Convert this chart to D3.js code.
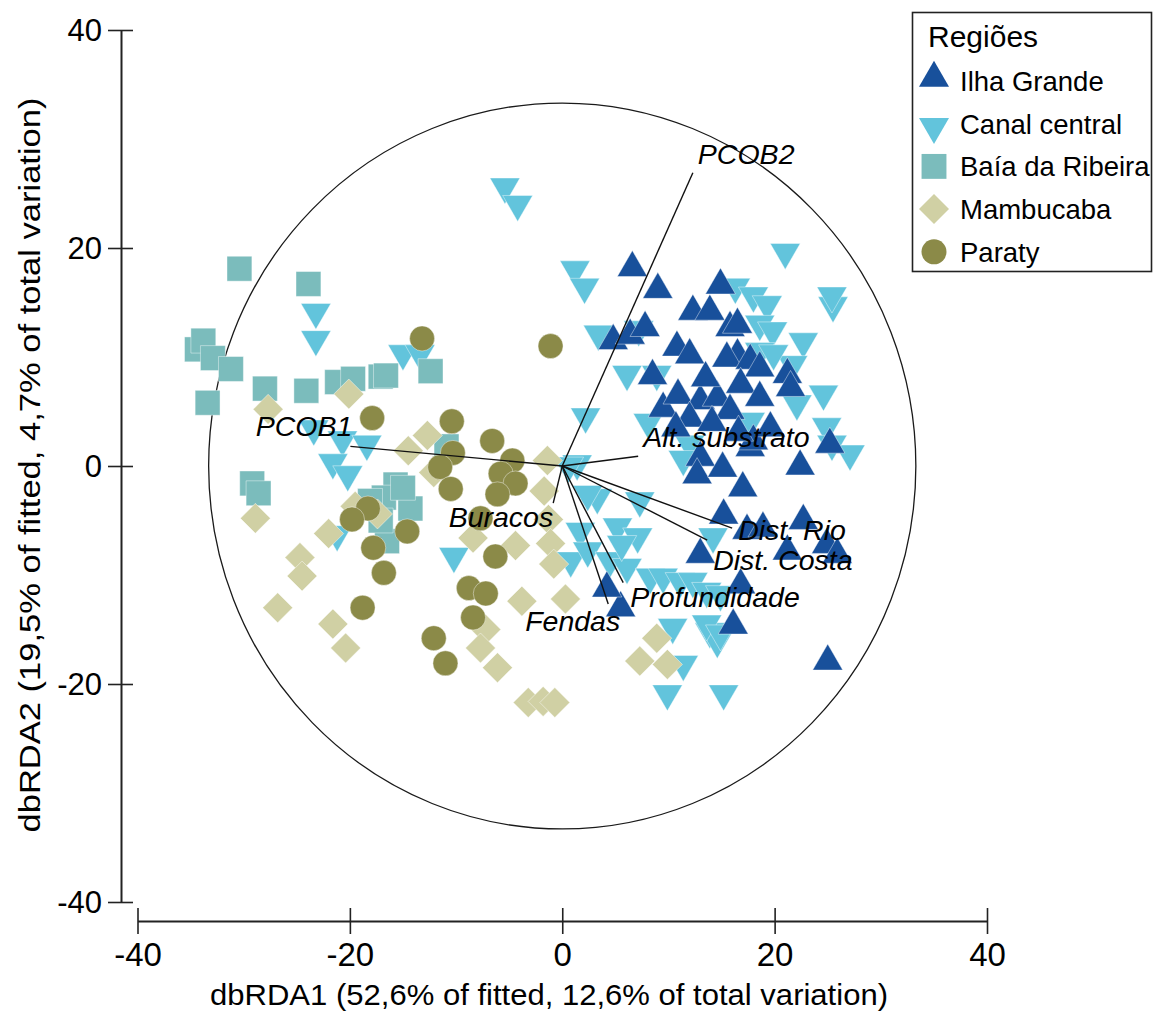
<!DOCTYPE html>
<html><head><meta charset="utf-8">
<script src="https://cdn.jsdelivr.net/npm/d3@7"></script>
<style>body{margin:0;background:#fff} text{font-family:"Liberation Sans",Arial,Helvetica,sans-serif;fill:#000}</style>
</head><body><svg id="c" width="1162" height="1014"></svg>
<script>
// ---------- data ----------
const regionNames = ["Ilha Grande","Canal central","Baía da Ribeira","Mambucaba","Paraty"];

const ilhaGrande = [
  [6.6,17.9],[9.0,15.9],[4.8,11.2],[6.4,11.7],[7.8,12.4],[8.5,8.0],[14.9,16.3],[12.3,13.9],[13.9,13.9],
  [10.8,10.6],[12.0,9.9],[15.8,12.4],[16.5,9.9],[9.5,5.0],[10.9,6.2],[13.0,5.7],[14.6,6.0],[15.8,4.8],
  [16.5,12.7],[15.5,9.6],[17.7,9.4],[18.6,8.7],[16.8,7.2],[21.2,8.1],[21.5,6.9],[18.6,6.0],[25.2,1.7],
  [17.7,1.4],[22.4,-0.3],[18.0,2.0],[17.0,-2.3],[15.2,-4.8],[17.4,-6.2],[18.9,-6.0],[22.7,-5.3],[24.9,-7.5],
  [21.2,-8.1],[25.9,-8.4],[16.8,-11.2],[16.1,-14.9],[25.0,-18.2],[13.0,0.5],[12.7,-1.1],[13.0,-8.4],
  [5.5,-13.3],[4.2,-11.5],[13.5,7.8],[12.0,4.1],[14.1,3.7],[16.6,2.8],[19.6,3.2],[10.7,3.2],[15.1,-0.5]
];
const canalCentral = [
  [-5.4,25.9],[-4.2,24.3],[1.2,18.3],[2.1,16.7],[-23.2,14.4],[-23.2,11.9],[-15.0,10.6],[-13.4,10.6],
  [-23.4,3.7],[-20.7,2.7],[-18.4,2.3],[-21.6,0.6],[-20.2,-0.5],[-21.2,-6.0],[-10.2,-8.0],
  [1.4,0.5],[0.6,0.3],[2.2,4.8],[3.3,-2.6],[2.4,-2.3],[7.3,-2.9],[1.7,-5.7],[5.2,-5.3],[7.1,-6.2],
  [0.8,-8.4],[2.4,-7.5],[4.5,-8.4],[6.1,-9.0],[8.3,-9.9],[9.5,-9.9],[11.1,-10.3],[12.3,-10.3],[13.6,-11.2],
  [14.2,-6.2],[10.4,-14.5],[13.9,-14.9],[14.6,-15.8],[11.4,-17.9],[9.9,-20.6],[15.2,-20.6],[14.9,-11.5],
  [13.6,-14.2],[14.9,-15.1],[5.6,-6.9],
  [21.0,19.9],[25.5,15.0],[25.4,15.9],[16.3,16.7],[18.0,15.9],[19.3,15.1],[18.6,13.3],[19.8,12.7],
  [22.7,11.7],[21.7,9.6],[18.6,10.8],[19.9,10.6],[24.6,6.9],[22.1,6.0],[17.7,4.4],[24.9,3.9],[27.1,1.4],
  [25.4,2.3],[3.4,12.4],[6.1,8.7],[7.2,12.8],[8.9,8.7],[8.1,4.3],[12.0,2.3],[11.4,0.9]
];
const baiaRibeira = [
  [-30.4,18.1],[-23.9,16.7],[-34.4,10.7],[-33.8,11.5],[-32.9,9.9],[-31.2,8.9],[-33.4,5.8],[-28.0,7.1],
  [-24.1,6.9],[-21.2,7.7],[-19.7,8.0],[-17.1,8.2],[-16.6,8.3],[-12.4,8.7],[-29.2,-1.6],[-28.6,-2.5],
  [-10.9,1.8],[-15.7,-1.7],[-16.8,-2.9],[-18.1,-3.2],[-14.3,-3.9],[-16.5,-6.9],[-15.0,-2.0],[-17.1,-5.0]
];
const mambucaba = [
  [-27.7,5.2],[-20.1,6.6],[-12.7,2.8],[-14.5,1.4],[-28.9,-4.8],[-22.0,-6.2],[-17.4,-4.4],[-24.7,-8.4],
  [-24.5,-10.1],[-26.8,-13.0],[-21.6,-14.5],[-20.4,-16.7],[-1.4,0.5],[-1.7,-2.3],[-1.3,-4.9],[-1.1,-7.1],
  [-0.8,-9.0],[-8.4,-6.6],[-4.4,-7.3],[-3.8,-12.4],[0.3,-12.2],[-7.2,-15.0],[-7.7,-16.7],[-6.1,-18.5],
  [-3.2,-21.7],[-1.8,-21.6],[-0.7,-21.7],[8.9,-15.8],[7.3,-17.9],[9.9,-18.2],[-19.5,-3.7],[-12.1,-0.6]
];
const paraty = [
  [-13.2,11.7],[-1.1,11.0],[-17.9,4.4],[-10.4,4.1],[-6.6,2.3],[-10.3,1.2],[-11.5,-0.1],[-10.5,-2.1],
  [-4.7,0.5],[-5.8,-0.7],[-4.4,-1.6],[-6.1,-2.6],[-14.6,-6.0],[-7.7,-4.8],[-6.3,-8.3],[-8.8,-11.2],
  [-7.2,-11.7],[-8.4,-13.9],[-12.1,-15.8],[-11.0,-18.1],[-18.3,-3.9],[-19.8,-4.9],[-17.8,-7.5],
  [-16.8,-9.8],[-18.8,-13.0]
];

const vectorNames = ["PCOB2","PCOB1","Alt. substrato","Buracos","Dist. Rio","Dist. Costa","Profundidade","Fendas"];
const vectorX = [12.3,-19.95,7.15,-0.85,16.0,13.65,5.74,4.33];
const vectorY = [26.9,1.8,0.9,-3.4,-5.7,-6.8,-10.7,-12.66];
const circleRadius = 33.3;
const xTicks = [-40,-20,0,20,40];
const yTicks = [-40,-20,0,20,40];
const xTitle = "dbRDA1 (52,6% of fitted, 12,6% of total variation)";
const yTitle = "dbRDA2 (19,5% of fitted, 4,7% of total variation)";
const legendTitle = "Regiões";

// ---------- layout ----------
const svg = d3.select("#c");
const x = d3.scaleLinear().domain([-40,40]).range([137.5,987]);
const y = d3.scaleLinear().domain([-40,40]).range([902,30]);

const colors = {"Ilha Grande":"#18509b","Canal central":"#62c4dc","Baía da Ribeira":"#7bbcbc","Mambucaba":"#d0d0a4","Paraty":"#8b8a48"};
const symDefs = {
  "Ilha Grande":{type:d3.symbolTriangle,size:390,rot:0,dy:-3},
  "Canal central":{type:d3.symbolTriangle,size:390,rot:180,dy:3},
  "Baía da Ribeira":{type:d3.symbolSquare,size:620,rot:0,dy:0},
  "Mambucaba":{type:d3.symbolSquare,size:450,rot:45,dy:0},
  "Paraty":{type:d3.symbolCircle,size:491,rot:0,dy:0}
};
const groupData = {"Ilha Grande":ilhaGrande,"Canal central":canalCentral,"Baía da Ribeira":baiaRibeira,"Mambucaba":mambucaba,"Paraty":paraty};

// correlation circle
svg.append("ellipse")
  .attr("cx",x(0)).attr("cy",y(0))
  .attr("rx",x(circleRadius)-x(0)).attr("ry",y(0)-y(circleRadius))
  .attr("fill","none").attr("stroke","#1a1a1a").attr("stroke-width",1.3);

// points
const drawOrder = ["Canal central","Ilha Grande","Baía da Ribeira","Mambucaba","Paraty"];
drawOrder.forEach(name=>{
  const d = symDefs[name];
  const path = d3.symbol().type(d.type).size(d.size)();
  svg.append("g").selectAll("path").data(groupData[name]).join("path")
    .attr("d",path)
    .attr("transform",p=>`translate(${x(p[0])},${y(p[1])+d.dy}) rotate(${d.rot})`)
    .attr("fill",colors[name]).attr("stroke","#fff").attr("stroke-width",0.6).attr("stroke-opacity",0.7);
});

// vectors
const vecLayout = {
  "PCOB2":{dx:5,dy:-9,a:"start"},
  "PCOB1":{dx:2,dy:-10,a:"end"},
  "Alt. substrato":{dx:5,dy:-9,a:"start"},
  "Buracos":{dx:0,dy:24,a:"end"},
  "Dist. Rio":{dx:6,dy:12,a:"start"},
  "Dist. Costa":{dx:6,dy:30,a:"start"},
  "Profundidade":{dx:7,dy:24,a:"start"},
  "Fendas":{dx:12,dy:27,a:"end"}
};
const vecs = vectorNames.map((n,i)=>({n,vx:vectorX[i],vy:vectorY[i]}));
svg.append("g").selectAll("line").data(vecs).join("line")
  .attr("x1",x(0)).attr("y1",y(0))
  .attr("x2",d=>x(d.vx)).attr("y2",d=>y(d.vy))
  .attr("stroke","#111").attr("stroke-width",1.4);
svg.append("g").selectAll("text").data(vecs).join("text")
  .attr("x",d=>x(d.vx)+vecLayout[d.n].dx).attr("y",d=>y(d.vy)+vecLayout[d.n].dy)
  .attr("text-anchor",d=>vecLayout[d.n].a)
  .attr("font-style","italic").attr("font-size",28.5)
  .text(d=>d.n);

// axes
const fmt = d => String(d);
const yAxisX = 121, xAxisY = 921;
const gy = svg.append("g").attr("transform",`translate(${yAxisX},0)`)
  .call(d3.axisLeft(y).tickValues(yTicks).tickSizeInner(13).tickSizeOuter(0).tickPadding(8).tickFormat(fmt));
gy.select(".domain").attr("stroke","#222").attr("stroke-width",2);
gy.selectAll(".tick line").attr("x2",-13).attr("x1",12).attr("stroke","#222").attr("stroke-width",1.6);
gy.selectAll(".tick text").attr("font-size",31).attr("font-family","Liberation Sans, Arial, sans-serif").attr("fill","#000").attr("dy","0.34em").attr("x",-19);

const gx = svg.append("g").attr("transform",`translate(0,${xAxisY})`)
  .call(d3.axisBottom(x).tickValues(xTicks).tickSizeInner(13).tickSizeOuter(0).tickPadding(8).tickFormat(fmt));
gx.select(".domain").attr("stroke","#222").attr("stroke-width",2);
gx.selectAll(".tick line").attr("y1",-13).attr("y2",13).attr("stroke","#222").attr("stroke-width",1.6);
gx.selectAll(".tick text").attr("font-size",33).attr("font-family","Liberation Sans, Arial, sans-serif").attr("fill","#000").attr("dy",0).attr("y",45);

// axis titles
svg.append("text").attr("x",549).attr("y",1005).attr("text-anchor","middle")
  .attr("font-size",30).attr("textLength",678).attr("lengthAdjust","spacingAndGlyphs").text(xTitle);
svg.append("text").attr("transform","translate(40,465) rotate(-90)").attr("text-anchor","middle")
  .attr("font-size",30).attr("textLength",735).attr("lengthAdjust","spacingAndGlyphs").text(yTitle);

// legend
const lg = svg.append("g");
lg.append("rect").attr("x",912.5).attr("y",12.5).attr("width",239).attr("height",259)
  .attr("fill","#fff").attr("stroke","#222").attr("stroke-width",1.6);
lg.append("text").attr("x",928).attr("y",47).attr("font-size",30).text(legendTitle);
regionNames.forEach((name,i)=>{
  const cy = 81 + i*42.7;
  const d = symDefs[name];
  lg.append("path").attr("d",d3.symbol().type(d.type).size(d.size)())
    .attr("transform",`translate(934,${cy+d.dy}) rotate(${d.rot})`)
    .attr("fill",colors[name]);
  lg.append("text").attr("x",960).attr("y",cy+10).attr("font-size",27.5).text(name);
});
</script></body></html>
